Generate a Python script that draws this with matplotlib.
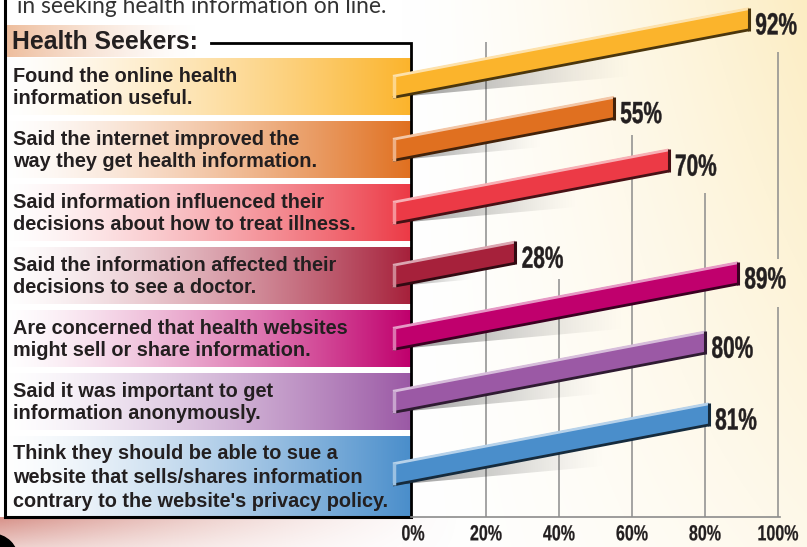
import numpy as np
import matplotlib
matplotlib.use("Agg")
import matplotlib.pyplot as plt
from matplotlib.patches import Polygon, Circle
from matplotlib.patheffects import AbstractPathEffect
from matplotlib.transforms import Affine2D
from matplotlib.colors import to_rgb

# ── data ──────────────────────────────────────────────────────────────────────
labels = [
    "Found the online health\ninformation useful.",
    "Said the internet improved the\nway they get health information.",
    "Said information influenced their\ndecisions about how to treat illness.",
    "Said the information affected their\ndecisions to see a doctor.",
    "Are concerned that health websites\nmight sell or share information.",
    "Said it was important to get\ninformation anonymously.",
    "Think they should be able to sue a\nwebsite that sells/shares information\ncontrary to the website's privacy policy.",
]
values = [92, 55, 70, 28, 89, 80, 81]
colors = ["#fbb42c", "#e07020", "#ec3a46", "#a6213b", "#c0006d", "#9b59a5", "#4a8ecb"]
ticks = [0, 20, 40, 60, 80, 100]
tick_labels = ["0%", "20%", "40%", "60%", "80%", "100%"]
top_text = "in seeking health information on line."
header = "Health Seekers:"

# ── layout (pixels) ───────────────────────────────────────────────────────────
W, H = 807, 547
X0_PX, X100_PX = 413, 778
PPU = (X100_PX - X0_PX) / 100          # pixels per percent
row_y = [86.5 + 63 * i for i in range(6)] + [474]
box_spans = [(y - 28, y + 28.5) for y in row_y[:6]] + [(436, 517)]
BAR_START = -5.5                        # bars begin a little left of 0%
BAR_H = 22
SLOPE = 0.19 * PPU                      # rise (px) per percent
SHADOW_SLOPE = 0.09 * PPU
AXIS_Y = 517
PANEL_L, PANEL_R = 5, 411
BOLD = ["Liberation Sans", "DejaVu Sans"]
TXT = "#231f20"
# gridline pieces (tops are knocked out by the value labels)
grid_spans = {20: [(42, 517)], 40: [(279, 517)], 60: [(135, 517)],
              80: [(193, 517)], 100: [(52, 259), (307, 517)]}


class Squeeze(AbstractPathEffect):
    """Draw text glyphs condensed (no narrow font installed), slightly heavier."""

    def __init__(self, sx, sy=1.0, about="left", stroke=0.0):
        super().__init__()
        self.sx, self.sy, self.about, self.stroke = sx, sy, about, stroke

    def draw_path(self, renderer, gc, tpath, affine, rgbFace=None):
        cx = 0.0
        if self.about == "center":
            ext = tpath.get_extents()
            cx = (ext.x0 + ext.x1) / 2
        pre = Affine2D().translate(-cx, 0).scale(self.sx, self.sy).translate(cx, 0)
        gc0 = renderer.new_gc()
        gc0.copy_properties(gc)
        if rgbFace is not None:
            gc0.set_foreground(rgbFace)
        gc0.set_linewidth(self.stroke)
        renderer.draw_path(gc0, tpath, pre + affine, rgbFace)
        gc0.restore()


def mix(c, other, t):
    c, o = np.array(to_rgb(c)), np.array(to_rgb(other))
    return tuple(c * (1 - t) + o * t)


fig = plt.figure(figsize=(W / 100, H / 100), dpi=100)
bg = fig.add_axes([0, 0, 1, 1])
bg.axis("off")
ax = fig.add_axes([0, 0, 1, 1])
ax.patch.set_visible(False)

# ── background ────────────────────────────────────────────────────────────────
gx, gy = np.meshgrid(np.linspace(0, 1, 400), np.linspace(0, 1, 300))
w = np.clip((gx - 0.5) / 0.5, 0, 1) ** 1.4 * (0.35 + 0.65 * (1 - gy))
cream = np.array(to_rgb("#fcedc3"))
bg.imshow(1 - w[..., None] * (1 - cream), extent=(0, W, H, 0), aspect="auto",
          interpolation="bilinear", zorder=0)

# rose strip under the panel
sx, sy = np.meshgrid(np.linspace(0, W, 300), np.linspace(AXIS_Y, H, 40))
strip = np.zeros(sx.shape + (4,))
strip[..., :3] = to_rgb("#d07e74")
strip[..., 3] = np.clip(1 - sx / 470, 0, 1) ** 1.5 * (1 - 0.55 * (sy - AXIS_Y) / 30) * 0.85
bg.imshow(strip, extent=(0, W, H, AXIS_Y), aspect="auto", interpolation="bilinear", zorder=1)
bg.add_patch(Circle((-8, 560), 26, color="black", zorder=2))

# top text (cut by the frame)
bg.text(17, 13, top_text, fontsize=16.4, family=["Lato", "DejaVu Sans"],
        color="#333333", va="baseline", zorder=3)

# ── left panel ────────────────────────────────────────────────────────────────
u = np.linspace(0, 1, 256)
hb = np.zeros((1, 256, 4))
hb[..., :3] = to_rgb("#eebd9c")
hb[..., 3] = np.clip(1 - u, 0, 1) ** 1.5
bg.imshow(hb, extent=(PANEL_L, 200, 57, 25), aspect="auto", interpolation="bilinear", zorder=2)
bg.text(12, 42, header, fontsize=17.8, fontweight="bold", family=BOLD, color=TXT,
        va="center", zorder=4)

for lab, col, yc, (top, bot) in zip(labels, colors, row_y, box_spans):
    grad = np.array([mix("#ffffff", col, t) for t in u ** 1.35])[None, ...]
    bg.imshow(grad, extent=(PANEL_L, PANEL_R, bot, top), aspect="auto",
              interpolation="bilinear", zorder=2)
    ls = 1.32 if lab.count("\n") > 1 else 1.2
    bg.text(13, (top + bot) / 2 + 1, lab, fontsize=14.3, fontweight="bold", family=BOLD,
            color=TXT, va="center", linespacing=ls, zorder=4)

bg.plot([211, PANEL_R, PANEL_R], [43, 43, AXIS_Y], color="black", lw=2, zorder=5,
        solid_joinstyle="miter")
bg.plot([PANEL_L, PANEL_L, PANEL_R], [0, AXIS_Y, AXIS_Y], color="black", lw=2.2, zorder=5,
        solid_joinstyle="miter")
bg.set_xlim(0, W)
bg.set_ylim(H, 0)

# ── chart ─────────────────────────────────────────────────────────────────────
for t, spans in grid_spans.items():
    for y0, y1 in spans:
        ax.vlines(t, y0, y1, color="#8c8c8c", lw=1.1, zorder=1)

for v, col, yc in zip(values, colors, row_y):
    x0, x1 = BAR_START, v
    t0 = yc - BAR_H / 2
    t1 = t0 - SLOPE * (x1 - x0)

    # soft shadow under the bar
    L = 0.68 * (x1 - x0)
    xe = x0 + L
    b0 = t0 + BAR_H
    shp = Polygon([(x0, b0), (xe, b0 - SLOPE * L), (xe, b0 - SHADOW_SLOPE * L)],
                  closed=True, transform=ax.transData)
    sh = np.zeros((1, 200, 4))
    sh[..., 3] = 0.42 * (1 - np.linspace(0, 1, 200)) ** 1.3
    im = ax.imshow(sh, extent=(x0, xe, b0, b0 - SLOPE * L), aspect="auto",
                   interpolation="bilinear", zorder=2)
    im.set_clip_path(shp)

    ax.add_patch(Polygon([(x0, t0), (x1, t1), (x1, t1 + BAR_H), (x0, t0 + BAR_H)],
                         closed=True, fc=col, ec="none", zorder=3))
    light = mix(col, "#ffffff", 0.6)
    dark = mix(col, "#000000", 0.7)
    ax.plot([x0, x1], [t0 + 0.8, t1 + 0.8], color=light, lw=2, zorder=4,
            solid_capstyle="butt")
    ax.plot([x0, x1], [t0 + BAR_H, t1 + BAR_H], color=dark, lw=2, zorder=4,
            solid_capstyle="butt")
    ax.plot([x0 + 0.35, x0 + 0.35], [t0, t0 + BAR_H], color=mix(col, "#ffffff", 0.45),
            lw=2.5, zorder=4, solid_capstyle="butt")
    ax.plot([x1, x1], [t1, t1 + BAR_H + 1], color=dark, lw=2.2, zorder=4,
            solid_capstyle="butt")
    ax.text(x1 + 6.5 / PPU, t1 + BAR_H / 2 + 8.5, f"{v}%", family=BOLD, fontsize=20,
            fontweight="bold", color=TXT, va="center", ha="left", zorder=5,
            path_effects=[Squeeze(0.75, 1.1, stroke=0.3)])

ax.set_yticks([])
for s in ("top", "left", "right"):
    ax.spines[s].set_visible(False)
ax.spines["bottom"].set_position(("data", AXIS_Y))
ax.spines["bottom"].set_bounds(-0.5, 100.5)
ax.spines["bottom"].set_color("#8c8c8c")
ax.spines["bottom"].set_linewidth(1.2)
ax.set_xlim(-X0_PX / PPU, (W - X0_PX) / PPU)
ax.set_ylim(H, 0)
ax.set_xticks(ticks, labels=tick_labels)
ax.tick_params(axis="x", length=0, pad=6, labelsize=15, labelcolor=TXT)
for lbl in ax.get_xticklabels():
    lbl.set_family(BOLD)
    lbl.set_fontweight("bold")
    lbl.set_path_effects([Squeeze(0.77, 1.05, about="center", stroke=0.15)])

fig.savefig("out.png", dpi=100)
